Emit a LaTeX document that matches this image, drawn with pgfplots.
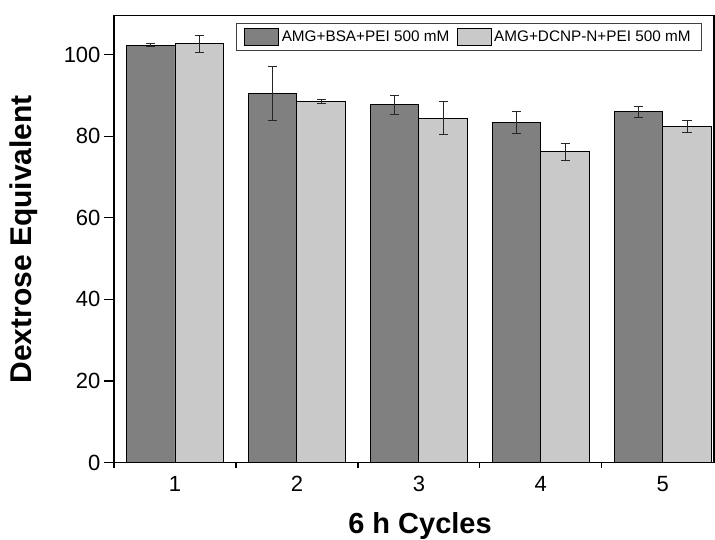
\documentclass[border=0pt]{standalone}
\usepackage{pgfplots}
\pgfplotsset{compat=1.18}
\usepackage{fontspec}
\setmainfont{Liberation Sans}
\setsansfont{Liberation Sans}

\definecolor{darkbar}{RGB}{128,128,128}
\definecolor{lightbar}{RGB}{201,201,201}

\begin{document}
\begin{tikzpicture}
\useasboundingbox (-114pt,-77.3pt) rectangle (601pt,462.7pt);
\begin{axis}[
    at={(0pt,0pt)}, anchor=south west,
    scale only axis,
    width=600pt, height=447pt,
    xmin=0.5, xmax=5.42,
    ymin=0, ymax=109.5,
    ybar=0pt, bar width=0.4,
    xtick={1,2,3,4,5},
    minor xtick={0.5,1.5,2.5,3.5,4.5},
    ytick={0,20,40,60,80,100},
    xtick pos=bottom, ytick pos=left,
    tick align=outside,
    major tick length=10pt,
    minor tick length=5pt,
    major x tick style={draw=none},
    tick style={line width=1.2pt, black},
    axis line style={line width=1.3pt},
    /pgf/number format/assume math mode=true,
    tick label style={font=\fontsize{22}{26}\selectfont},
    xlabel={6 h Cycles},
    ylabel={Dextrose Equivalent},
    every axis x label/.style={at={(axis description cs:0.5,0)}, xshift=6pt, yshift=-71.3pt,
        anchor=base, font=\fontsize{29}{34}\selectfont\bfseries},
    every axis y label/.style={at={(axis description cs:0,0.5)}, xshift=-90pt, rotate=90,
        anchor=center, font=\fontsize{30}{35}\selectfont\bfseries},
    legend columns=2,
    legend style={at={(0.2033,0.9843)}, anchor=north west,
        draw=black!75, line width=0.8pt,
        inner xsep=8pt, inner ysep=5pt,
        font=\fontsize{15.3}{18}\selectfont,
        nodes={inner xsep=2.5pt, inner ysep=2pt},
        /tikz/every even column/.append style={column sep=5pt}},
    legend image code/.code={\draw[#1, line width=0.9pt] (0pt,-8.3pt) rectangle (34pt,8.3pt);},
    error bars/error bar style={line width=0.8pt, black!85},
    error bars/error mark options={rotate=90, mark size=4.7pt, line width=0.8pt, black!85},
]
\addplot[fill=darkbar, draw=black, line width=0.9pt, bar shift=-0.2,
    error bars/.cd, y dir=both, y explicit]
  coordinates {
    (1,102.3) +- (0,0.3)
    (2,90.4) +- (0,6.6)
    (3,87.7) +- (0,2.3)
    (4,83.4) +- (0,2.65)
    (5,86.0) +- (0,1.35)
};
\addlegendentry{AMG+BSA+PEI 500 mM}
\addplot[fill=lightbar, draw=black, line width=0.9pt, bar shift=0.2,
    error bars/.cd, y dir=both, y explicit]
  coordinates {
    (1,102.6) +- (0,2.1)
    (2,88.4) +- (0,0.5)
    (3,84.4) +- (0,4.05)
    (4,76.2) +- (0,2.05)
    (5,82.4) +- (0,1.5)
};
\addlegendentry{AMG+DCNP-N+PEI 500 mM}
\end{axis}
\end{tikzpicture}
\end{document}
